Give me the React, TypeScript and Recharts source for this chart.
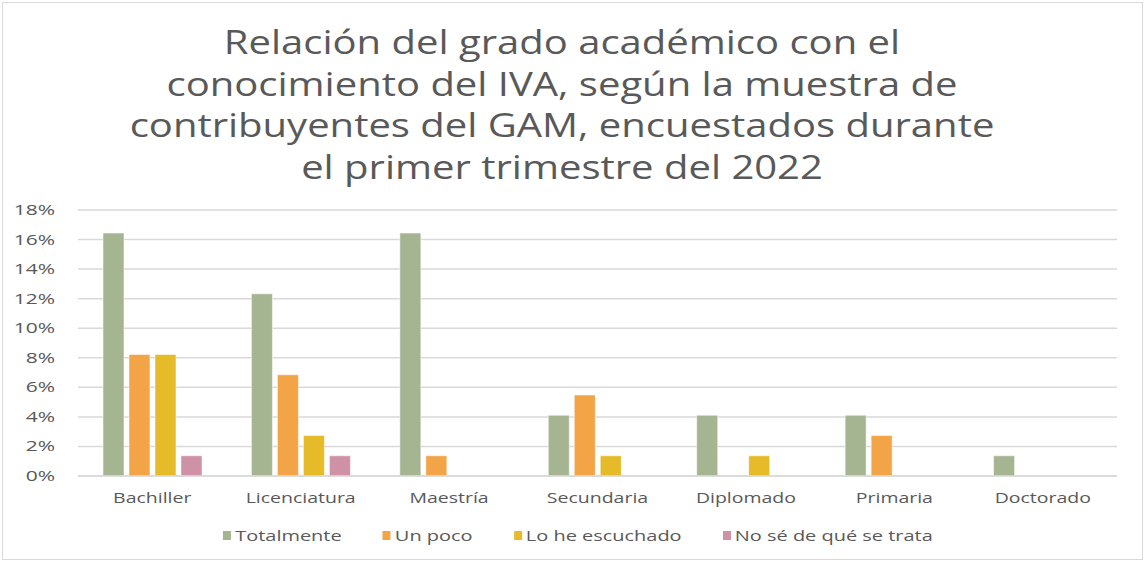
import React from "react";
import { BarChart, Bar, XAxis, YAxis, CartesianGrid } from "recharts";

const categories = ["Bachiller", "Licenciatura", "Maestría", "Secundaria", "Diplomado", "Primaria", "Doctorado"];
const totalmente = [0.1644, 0.1233, 0.1644, 0.0411, 0.0411, 0.0411, 0.0137];
const unPoco = [0.0822, 0.0685, 0.0137, 0.0548, 0, 0.0274, 0];
const loHeEscuchado = [0.0822, 0.0274, 0, 0.0137, 0.0137, 0, 0];
const noSe = [0.0137, 0.0137, 0, 0, 0, 0, 0];
const yTicks = [0, 0.02, 0.04, 0.06, 0.08, 0.1, 0.12, 0.14, 0.16, 0.18];
const titleLines = [
  "Relación del grado académico con el",
  "conocimiento del IVA, según la muestra de",
  "contribuyentes del GAM, encuestados durante",
  "el primer trimestre del 2022",
];

const series = [
  { key: "t", name: "Totalmente", color: "#A5B592", values: totalmente },
  { key: "u", name: "Un poco", color: "#F3A447", values: unPoco },
  { key: "l", name: "Lo he escuchado", color: "#E5BB2A", values: loHeEscuchado },
  { key: "n", name: "No sé de qué se trata", color: "#CF91A6", values: noSe },
];

const data = categories.map((c, i) => {
  const row: Record<string, any> = { cat: c };
  series.forEach((s) => (row[s.key] = s.values[i]));
  return row;
});

const FONT = "'Open Sans', sans-serif";
const TXT = "#595959";

const XTick = (props: any) => {
  const { x, y, payload } = props;
  return (
    <text transform={`translate(${x},${y + 19}) scale(1.3,1)`} textAnchor="middle" fill={TXT} fontSize={15} fontFamily={FONT}>
      {payload.value}
    </text>
  );
};

const YTick = (props: any) => {
  const { x, y, payload } = props;
  return (
    <text transform={`translate(${x},${y + 5}) scale(1.4,1)`} textAnchor="end" fill={TXT} fontSize={15} fontFamily={FONT}>
      {`${Math.round(payload.value * 100)}%`}
    </text>
  );
};

export default function App() {
  return (
    <div style={{ position: "absolute", left: 0, top: 0, width: 1146, height: 565, background: "#fff", fontFamily: FONT, overflow: "hidden" }}>
      <div style={{ position: "absolute", left: 2, top: 2, width: 1141, height: 558, border: "1px solid #d9d9d9", boxSizing: "border-box" }} />
      <div style={{ position: "absolute", left: -11, top: 21, width: 1146, textAlign: "center", color: TXT, fontSize: 32, lineHeight: "41.5px", transform: "scaleX(1.25)", transformOrigin: "573px 0", whiteSpace: "nowrap" }}>
        {titleLines.map((l) => (
          <div key={l}>{l}</div>
        ))}
      </div>
      <div style={{ position: "absolute", left: 0, top: 0 }}>
        <BarChart
          width={1146}
          height={565}
          data={data}
          margin={{ top: 210, right: 29, left: 0, bottom: 59 }}
          barGap={5}
          barSize={21}
        >
          <CartesianGrid vertical={false} stroke="#d9d9d9" strokeWidth={1.5} />
          <XAxis
            dataKey="cat"
            height={30}
            tickLine={false}
            axisLine={{ stroke: "#d9d9d9", strokeWidth: 1.5 }}
            tick={<XTick />}
          />
          <YAxis
            width={78}
            domain={[0, 0.18]}
            ticks={yTicks}
            axisLine={false}
            tickLine={false}
            tick={<YTick />}
            tickMargin={17}
          />
          {series.map((s) => (
            <Bar key={s.key} dataKey={s.key} name={s.name} fill={s.color} stroke="#ffffff" strokeOpacity={0.5} strokeWidth={1} isAnimationActive={false} />
          ))}
        </BarChart>
      </div>
      <div style={{ position: "absolute", left: 5, top: 525, width: 1146, display: "flex", justifyContent: "center", gap: 31, color: TXT, fontSize: 15, fontFamily: FONT, transform: "scaleX(1.33)", transformOrigin: "573px 0", whiteSpace: "nowrap" }}>
        {series.map((s) => (
          <div key={s.key} style={{ display: "flex", alignItems: "center" }}>
            <span style={{ display: "inline-block", width: 6, height: 9, background: s.color, marginRight: 3 }} />
            <span>{s.name}</span>
          </div>
        ))}
      </div>
    </div>
  );
}
